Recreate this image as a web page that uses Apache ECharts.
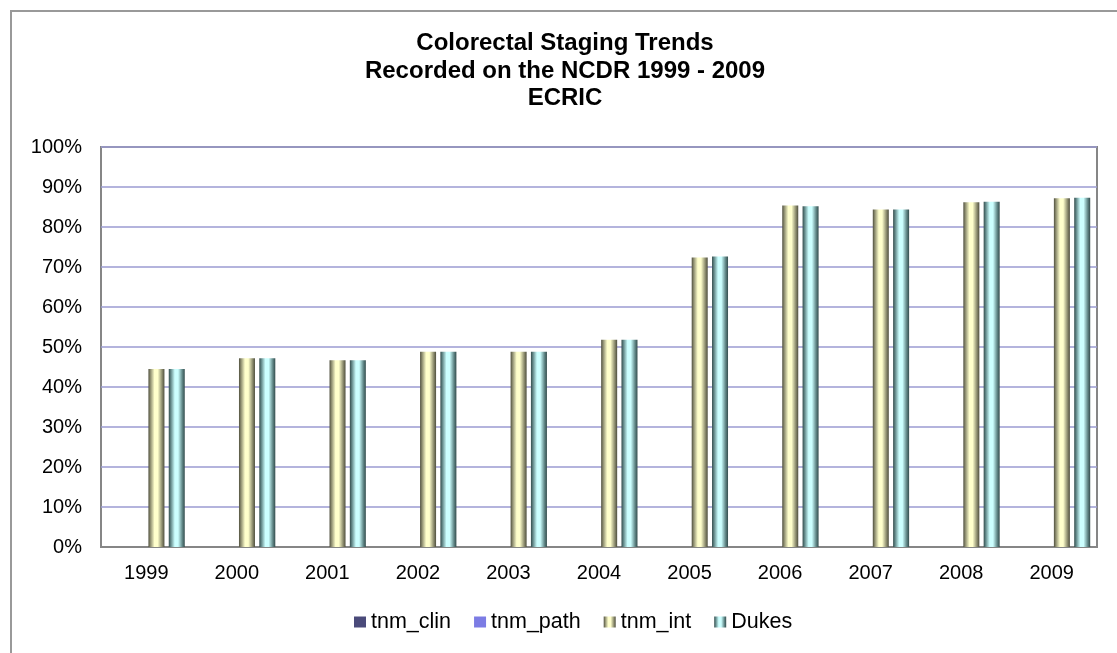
<!DOCTYPE html>
<html>
<head>
<meta charset="utf-8">
<script src="https://cdn.jsdelivr.net/npm/echarts@6/dist/echarts.min.js"></script>
<style>
  html, body { margin: 0; padding: 0; background: #fff; }
  #chart { width: 1117px; height: 653px; }
</style>
</head>
<body>
<div id="chart"></div>
<script>
// Staging completeness per diagnosis year (% of colorectal cases)
const years = ['1999', '2000', '2001', '2002', '2003', '2004', '2005', '2006', '2007', '2008', '2009'];
const tnmClin = [0, 0, 0, 0, 0, 0, 0, 0, 0, 0, 0];
const tnmPath = [0, 0, 0, 0, 0, 0, 0, 0, 0, 0, 0];
const tnmInt  = [44.5, 47.2, 46.7, 48.8, 48.8, 51.8, 72.4, 85.4, 84.4, 86.2, 87.2];
const dukes   = [44.5, 47.2, 46.7, 48.8, 48.8, 51.8, 72.6, 85.2, 84.4, 86.3, 87.3];
const yTicks  = { min: 0, max: 100, step: 10 };

const FONT = '"Liberation Sans", Arial, sans-serif';

// Cylinder-style shading across each bar
function cylinder(dark, light, edge) {
  return new echarts.graphic.LinearGradient(0, 0, 1, 0, [
    { offset: 0, color: edge },
    { offset: 0.12, color: dark },
    { offset: 0.38, color: light },
    { offset: 0.58, color: light },
    { offset: 0.85, color: dark },
    { offset: 1, color: edge }
  ]);
}

const intFill = cylinder('#8c8c6e', '#ffffcc', '#4f4f3e');
const dukesFill = cylinder('#5f8585', '#ccffff', '#344d4d');

function barSeries(name, data, color) {
  return {
    name: name,
    type: 'bar',
    data: data,
    barWidth: 16,
    barGap: '27%',
    itemStyle: { color: color },
    emphasis: { disabled: true }
  };
}

const chart = echarts.init(document.getElementById('chart'), null, { renderer: 'canvas' });

chart.setOption({
  animation: false,
  backgroundColor: '#ffffff',
  textStyle: { fontFamily: FONT },
  title: {
    text: 'Colorectal Staging Trends\nRecorded on the NCDR 1999 - 2009\nECRIC',
    left: 565,
    textAlign: 'center',
    top: 30,
    padding: 0,
    textStyle: {
      fontFamily: FONT,
      fontSize: 24,
      fontWeight: 'bold',
      lineHeight: 27.5,
      color: '#000'
    }
  },
  graphic: [{
    type: 'rect',
    shape: { x: 11, y: 11, width: 1110, height: 700 },
    style: { fill: 'none', stroke: '#999999', lineWidth: 2 },
    silent: true,
    z: -1
  }],
  legend: {
    top: 610,
    left: 354,
    padding: 0,
    itemWidth: 12,
    itemHeight: 11,
    itemGap: 23,
    icon: 'rect',
    textStyle: { fontFamily: FONT, fontSize: 21.5, lineHeight: 24, color: '#000' },
    data: ['tnm_clin', 'tnm_path', 'tnm_int', 'Dukes']
  },
  grid: {
    left: 101,
    right: 20,
    top: 147,
    bottom: 106,
    show: true,
    borderColor: '#868686',
    borderWidth: 2,
    containLabel: false
  },
  xAxis: {
    type: 'category',
    data: years,
    axisTick: { show: false },
    axisLine: { show: true, lineStyle: { color: '#868686', width: 2 } },
    axisLabel: { fontFamily: FONT, fontSize: 20, color: '#000', margin: 16 }
  },
  yAxis: {
    type: 'value',
    min: yTicks.min,
    max: yTicks.max,
    interval: yTicks.step,
    axisLine: { show: false },
    axisTick: { show: false },
    axisLabel: { fontFamily: FONT, fontSize: 20, color: '#000', margin: 19, formatter: '{value}%' },
    splitLine: { lineStyle: { color: '#9b9bd2', width: 1.5 } }
  },
  series: [
    barSeries('tnm_clin', tnmClin, '#4a4a7a'),
    barSeries('tnm_path', tnmPath, '#7c7ce4'),
    barSeries('tnm_int', tnmInt, intFill),
    barSeries('Dukes', dukes, dukesFill)
  ]
});
</script>
</body>
</html>
